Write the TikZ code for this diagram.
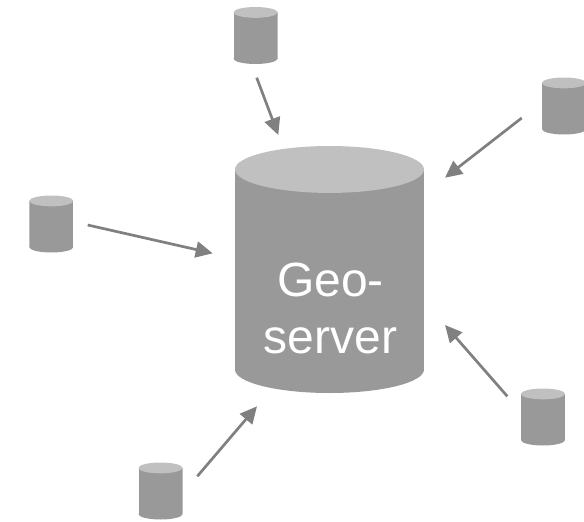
\documentclass[tikz,border=0pt]{standalone}
\usepackage{fontspec}
\setmainfont{Liberation Sans}
\usetikzlibrary{arrows.meta}
\definecolor{bodygray}{HTML}{999999}
\definecolor{lidgray}{HTML}{C0C0C0}
\definecolor{flowgray}{HTML}{808080}

\begin{document}
\begin{tikzpicture}
  [x=1pt,y=-1pt,
  can/.style 2 args={shape=rectangle,inner sep=0pt,minimum width=#1pt,minimum height=#2pt,
         path picture={
           \def\pb{path picture bounding box}
           \fill [bodygray] ([yshift=-#2*0.095pt]\pb.north west) rectangle ([yshift=#2*0.095pt]\pb.south east);
           \fill [bodygray] ([yshift=#2*0.095pt]\pb.south) ellipse [x radius=#1*0.5pt,y radius=#2*0.095pt];
           \fill [lidgray]  ([yshift=-#2*0.095pt]\pb.north) ellipse [x radius=#1*0.5pt,y radius=#2*0.095pt];
         }},
  store/.style={can={44}{57}},
  hub/.style={can={189}{247}},
  hubtext/.style={text=white,align=center,font=\fontsize{48}{57}\selectfont,xshift=1pt,yshift=-39pt},
  flow/.style={draw=flowgray,line width=2.7pt,-{Triangle[length=17pt,width=16pt]}}
  ]
  \useasboundingbox (0,0) rectangle (584,522);

  \node (geo)   [hub, label={[hubtext]center:{Geo-\\server}}] at (329.5,269.5) {};
  \node (north) [store] at (255.5,35.5)  {};
  \node (east)  [store] at (564,106)     {};
  \node (west)  [store] at (51.3,224)    {};
  \node (south) [store] at (160.5,491)   {};
  \node (se)    [store] at (543,417)     {};

  \draw [flow] ([shift={(1.2,42.2)}]north.center) -- ([shift={(-51.2,-134.5)}]geo.center);
  \draw [flow] ([shift={(-42.3,12)}]east.center)  -- ([shift={(115.5,-91.8)}]geo.center);
  \draw [flow] ([shift={(36.4,1)}]west.center)    -- ([shift={(-116.8,-16.2)}]geo.center);
  \draw [flow] ([shift={(36.8,-14.7)}]south.center) -- ([shift={(-72.5,136.8)}]geo.center);
  \draw [flow] ([shift={(-35.7,-20.7)}]se.center) -- ([shift={(115.5,55.5)}]geo.center);
\end{tikzpicture}
\end{document}
